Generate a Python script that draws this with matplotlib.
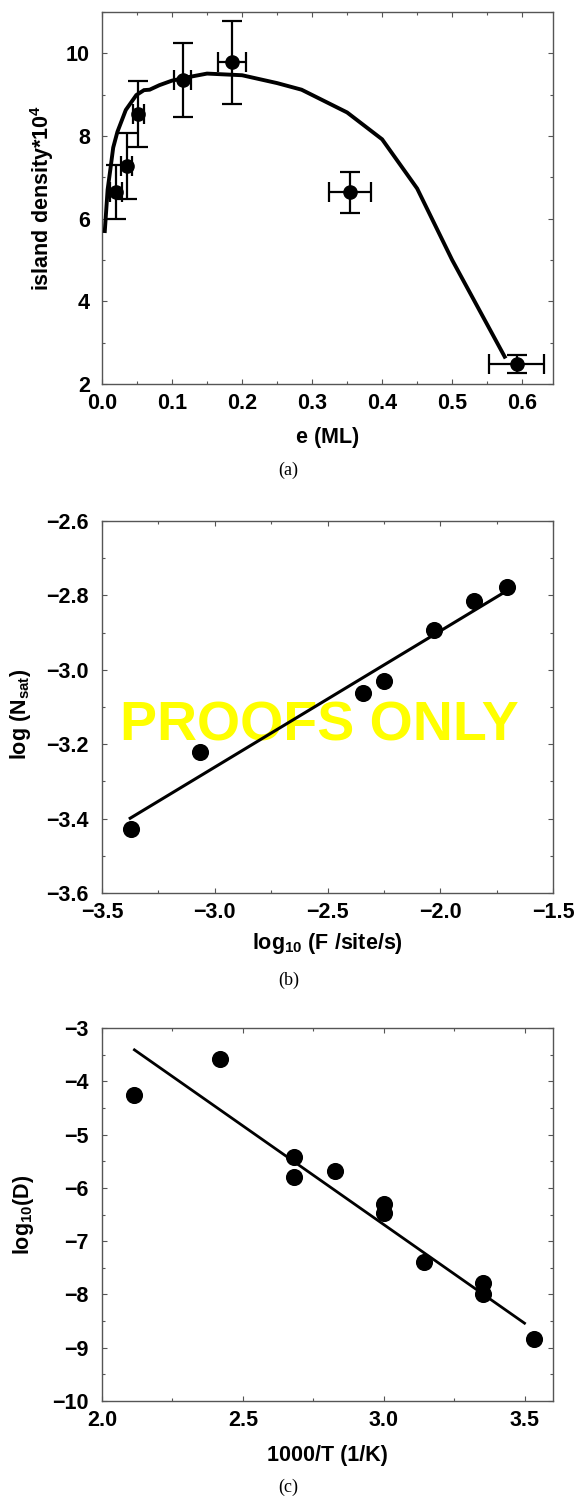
import matplotlib
matplotlib.use('Agg')
import matplotlib.pyplot as plt
from matplotlib.ticker import MultipleLocator, FuncFormatter

# ---------------- data ----------------
# (a) island density vs coverage
curve_x = [0.004, 0.008, 0.012, 0.016, 0.022, 0.034, 0.049, 0.060, 0.068, 0.082,
           0.100, 0.125, 0.150, 0.200, 0.250, 0.285, 0.350, 0.400, 0.450, 0.500, 0.575]
curve_y = [5.70, 6.70, 7.20, 7.72, 8.10, 8.63, 8.99, 9.11, 9.12, 9.23,
           9.34, 9.43, 9.51, 9.47, 9.28, 9.12, 8.57, 7.92, 6.73, 5.00, 2.66]
pts_x = [0.020, 0.035, 0.052, 0.115, 0.185, 0.354, 0.592]
pts_y = [6.64, 7.27, 8.53, 9.36, 9.78, 6.64, 2.48]
pts_yerr = [0.66, 0.80, 0.80, 0.90, 1.01, 0.50, 0.21]
pts_xerr = [0.008, 0.008, 0.008, 0.0115, 0.020, 0.030, 0.039]

# (b) saturation island density vs flux
b_x = [-3.373, -3.067, -2.343, -2.250, -2.029, -1.850, -1.705]
b_y = [-3.428, -3.221, -3.063, -3.030, -2.893, -2.814, -2.777]
b_fit_x = [-3.375, -1.725]
b_fit_y = [-3.399, -2.795]

# (c) Arrhenius plot
c_x = [2.115, 2.419, 2.680, 2.680, 2.828, 3.000, 3.000, 3.143, 3.353, 3.353, 3.531]
c_y = [-4.25, -3.59, -5.42, -5.79, -5.68, -6.31, -6.47, -7.40, -7.79, -8.00, -8.84]
c_fit_x = [2.115, 3.499]
c_fit_y = [-3.41, -8.54]

# ---------------- style ----------------
plt.rcParams.update({
    'font.family': ['Liberation Sans', 'DejaVu Sans'],
    'font.weight': 'bold',
    'axes.labelweight': 'bold',
    'mathtext.fontset': 'custom',
    'mathtext.rm': 'Liberation Sans:bold',
    'mathtext.it': 'Liberation Sans:bold',
    'mathtext.bf': 'Liberation Sans:bold',
    'mathtext.sf': 'Liberation Sans:bold',
    'mathtext.default': 'rm',
})

W, H = 577, 1499
fig = plt.figure(figsize=(W / 100, H / 100), dpi=100)


def make_axes(top_px, bottom_px, left_px=102, right_px=553):
    return fig.add_axes([left_px / W, 1 - bottom_px / H,
                         (right_px - left_px) / W, (bottom_px - top_px) / H])


def fmt(spec):
    return FuncFormatter(lambda v, p: (spec % v).replace('-', '\u2212'))


def style(ax, xmaj, xmin, ymaj, ymin, xfmt, yfmt, ypad):
    ax.xaxis.set_major_locator(MultipleLocator(xmaj))
    ax.xaxis.set_minor_locator(MultipleLocator(xmin))
    ax.yaxis.set_major_locator(MultipleLocator(ymaj))
    ax.yaxis.set_minor_locator(MultipleLocator(ymin))
    ax.xaxis.set_major_formatter(fmt(xfmt))
    ax.yaxis.set_major_formatter(fmt(yfmt))
    ax.tick_params(which='both', direction='in', top=True, right=True,
                   color='#555555', labelcolor='black', labelsize=15.5, width=0.8)
    ax.tick_params(which='major', length=3.6)
    ax.tick_params(which='minor', length=2.2)
    ax.tick_params(axis='x', pad=6.5)
    ax.tick_params(axis='y', pad=ypad)
    for s in ax.spines.values():
        s.set_color('#555555')
        s.set_linewidth(1.0)


def labels(ax, xl, yl, xl_off, yl_x, yl_y=0.5):
    ax.set_xlabel(xl, fontsize=15.5, fontweight='bold')
    ax.set_ylabel(yl, fontsize=15.5, fontweight='bold')
    h = ax.get_position().height * H
    w = ax.get_position().width * W
    ax.xaxis.set_label_coords(0.5, -xl_off / h)
    ax.xaxis.label.set_va('center')
    ax.yaxis.set_label_coords(-yl_x / w, yl_y)
    ax.yaxis.label.set_va('center')


# ---------------- panel (a) ----------------
ax_a = make_axes(12, 384)
ax_a.plot(curve_x, curve_y, color='black', lw=2.8, solid_joinstyle='miter', zorder=3)
ax_a.errorbar(pts_x, pts_y, yerr=pts_yerr, xerr=pts_xerr, fmt='o', color='black',
              ms=9.5, elinewidth=1.6, capsize=7.5, capthick=1.6, zorder=4)
ax_a.set_xlim(0, 0.644)
ax_a.set_ylim(2, 11)
style(ax_a, 0.1, 0.05, 2, 1, '%.1f', '%d', 8.6)
labels(ax_a, 'e (ML)', r'island density*10$^4$', 53, 60)

# ---------------- panel (b) ----------------
ax_b = make_axes(521, 893)
ax_b.plot(b_fit_x, b_fit_y, color='black', lw=2.2, zorder=3)
ax_b.plot(b_x, b_y, 'o', color='black', ms=11.3, zorder=4)
ax_b.set_xlim(-3.5, -1.5)
ax_b.set_ylim(-3.6, -2.6)
style(ax_b, 0.5, 0.25, 0.2, 0.1, '%.1f', '%.1f', 9.5)
labels(ax_b, r'log$_{10}$ (F /site/s)', r'log (N$_{sat}$)', 50, 81, 0.48)
ax_b.text(319 / W, 1 - 740.5 / H, 'PROOFS ONLY', transform=fig.transFigure,
          ha='center', va='baseline', fontsize=40, fontweight='bold',
          color='#FFFF00', zorder=1)

# ---------------- panel (c) ----------------
ax_c = make_axes(1028, 1401)
ax_c.plot(c_fit_x, c_fit_y, color='black', lw=2.0, zorder=3)
ax_c.plot(c_x, c_y, 'o', color='black', ms=11.3, zorder=4)
ax_c.set_xlim(2.0, 3.6)
ax_c.set_ylim(-10, -3)
style(ax_c, 0.5, 0.25, 1, 0.5, '%.1f', '%d', 9.5)
labels(ax_c, '1000/T (1/K)', r'log$_{10}$(D)', 54, 78)

# ---------------- captions ----------------
for lab, ypx in [('(a)', 470), ('(b)', 980), ('(c)', 1487)]:
    fig.text(0.5, 1 - ypx / H, lab, ha='center', va='center', fontsize=13,
             family='Liberation Serif', fontweight='normal')

fig.savefig('out.png', dpi=100)
